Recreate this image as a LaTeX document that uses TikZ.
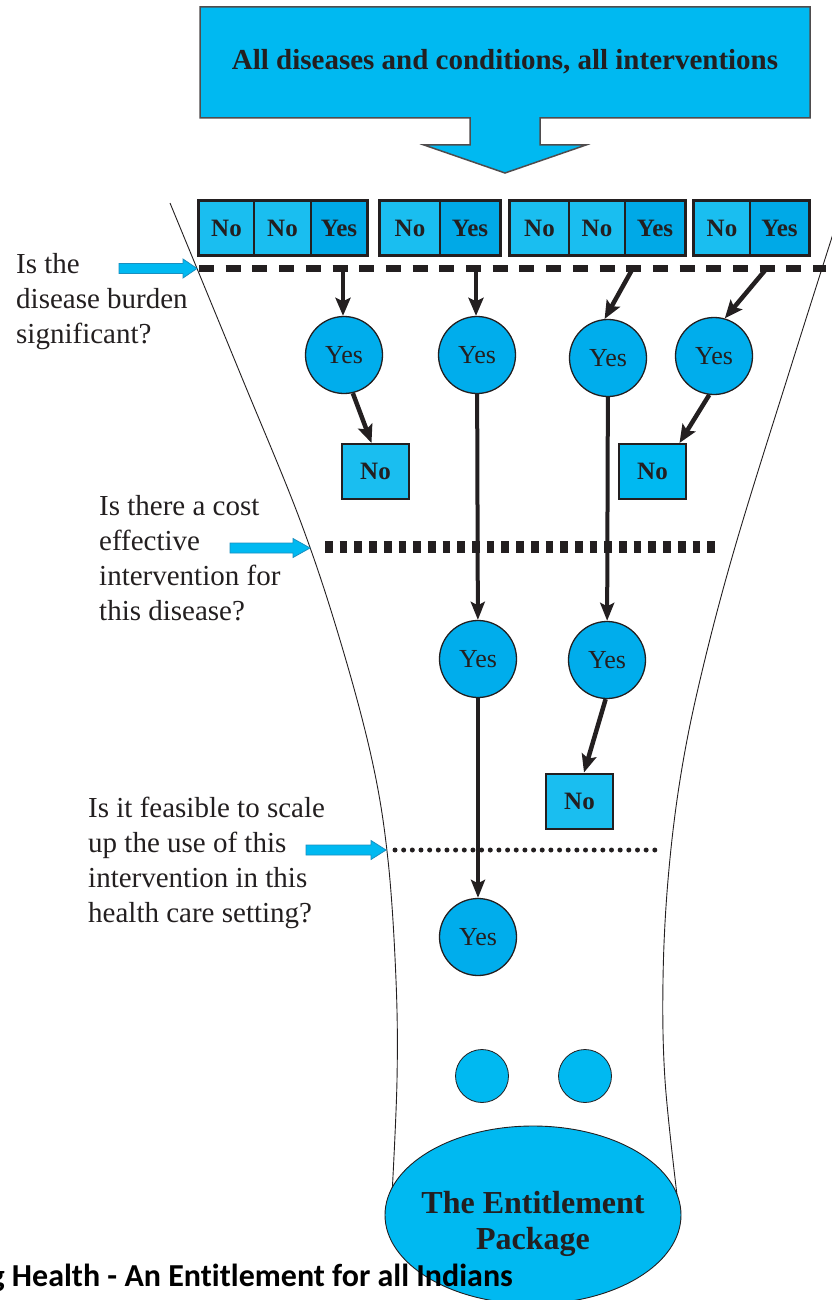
\documentclass[tikz,border=0pt]{standalone}
\usepackage{fontspec}
\setmainfont{Liberation Serif}
\newfontfamily\capfont[Ligatures=NoCommon]{Carlito}
\usetikzlibrary{arrows.meta,shapes.geometric}
\definecolor{ink}{HTML}{231F20}
\definecolor{cyanmain}{HTML}{00B9F1}
\definecolor{nofill}{HTML}{1ABEF0}
\definecolor{yesfill}{HTML}{00A9E7}
\definecolor{circfill}{HTML}{00ADEC}
\definecolor{arrowedge}{HTML}{1A8FBF}
\begin{document}
\begin{tikzpicture}[x=1pt,y=-1pt,
  cell/.style={draw=ink, line width=1.6pt, minimum height=54pt, inner sep=0pt, text=ink,
    font=\fontsize{25}{30}\selectfont\bfseries},
  nocell/.style={cell, fill=nofill},
  yescell/.style={cell, fill=yesfill},
  groupframe/.style={draw=ink, line width=2.4pt},
  yescirc/.style={circle, draw=ink, line width=1.3pt, fill=circfill, minimum size=77pt,
    inner sep=0pt, text=ink, font=\fontsize{26}{30}\selectfont},
  nobox/.style={draw=ink, line width=2pt, fill=nofill, minimum width=67pt, minimum height=55pt,
    inner sep=0pt, text=ink, font=\fontsize{25}{30}\selectfont\bfseries},
  flow/.style={draw=ink, line width=4.5pt, -{Stealth[length=18pt,width=15pt,inset=3.5pt]}},
  flowlong/.style={draw=ink, line width=4pt, -{Stealth[length=18pt,width=14pt,inset=3.5pt]}},
  funnel/.style={draw=ink, line width=0.9pt},
  qtext/.style={anchor=base west, inner sep=0pt, text=ink},
  qarrow/.style={fill=cyanmain, draw=arrowedge, line width=0.8pt},
  bigshape/.style={fill=cyanmain, draw=ink!80, line width=1.5pt},
  dot/.style={circle, draw=ink, line width=0.8pt, fill=cyanmain, minimum size=53pt, inner sep=0pt}
]
\useasboundingbox (0,0) rectangle (831,1300);

% funnel outline
\draw[funnel] plot[smooth, tension=0.6] coordinates {(170,203) (240,373) (300,520) (340,640) (372,760) (388,860) (396,980) (397,1080) (392,1195)};
\draw[funnel] plot[smooth, tension=0.6] coordinates {(840,212) (793,360) (735,547) (700,680) (680,780) (668,880) (663,980) (665,1080) (677,1195)};

% top block arrow
\draw[bigshape] (200,7) -- (810,7) -- (810,118) -- (540,118) -- (540,145) -- (586,145) -- (505,173)
  -- (424,145) -- (470,145) -- (470,118) -- (200,118) -- cycle;
\node[anchor=base, inner sep=0pt, text=ink, font=\fontsize{29}{35}\selectfont\bfseries] (title) at (505,70)
  {All diseases and conditions, all interventions};

% row of cells
\node[nocell, minimum width=55pt] (c11) at (226.5,228) {No};
\node[nocell, minimum width=57pt] (c12) at (282.5,228) {No};
\node[yescell, minimum width=56pt] (c13) at (339,228) {Yes};
\node[nocell, minimum width=60pt] (c21) at (410,228) {No};
\node[yescell, minimum width=60pt] (c22) at (470,228) {Yes};
\node[nocell, minimum width=59pt] (c31) at (539.5,228) {No};
\node[nocell, minimum width=56pt] (c32) at (597,228) {No};
\node[yescell, minimum width=60pt] (c33) at (655,228) {Yes};
\node[nocell, minimum width=56pt] (c41) at (722,228) {No};
\node[yescell, minimum width=59pt] (c42) at (779.5,228) {Yes};
\draw[groupframe] (c11.north west) rectangle (c13.south east);
\draw[groupframe] (c21.north west) rectangle (c22.south east);
\draw[groupframe] (c31.north west) rectangle (c33.south east);
\draw[groupframe] (c41.north west) rectangle (c42.south east);

% decision lines
\draw[ink, line width=7.3pt, dash pattern=on 15pt off 11.7pt] (199,268.5) -- (826,268.5);
\draw[ink, line width=12.5pt, dash pattern=on 7.7pt off 7pt] (325,547) -- (717,547);
\draw[ink, line width=5pt, line cap=round, dash pattern=on 0pt off 8.66pt] (395,850) -- (662,850);

\coordinate (d1) at (343,268);
\coordinate (d2) at (476,268);
\coordinate (d3) at (633,268);
\coordinate (d4) at (767,268);

% question labels
\node[qtext, font=\fontsize{29}{35}\selectfont] (q1) at (16,273)
  {\begin{tabular}[t]{@{}l@{}}Is the\\disease burden\\significant?\end{tabular}};
\node[qtext, font=\fontsize{29}{35}\selectfont] (q2) at (99,515)
  {\begin{tabular}[t]{@{}l@{}}Is there a cost\\effective\\intervention for\\this disease?\end{tabular}};
\node[qtext, font=\fontsize{29}{35}\selectfont] (q3) at (88,817)
  {\begin{tabular}[t]{@{}l@{}}Is it feasible to scale\\up the use of this\\intervention in this\\health care setting?\end{tabular}};

% cyan pointer arrows
\draw[qarrow] (119,263.5) -- (183,263.5) -- (183,259) -- (197,268.5) -- (183,278) -- (183,273.5) -- (119,273.5) -- cycle;
\draw[qarrow] (230,543) -- (293,543) -- (293,538.5) -- (310,548) -- (293,557.5) -- (293,553) -- (230,553) -- cycle;
\draw[qarrow] (306,845) -- (371,845) -- (371,840.5) -- (386,850) -- (371,859.5) -- (371,855) -- (306,855) -- cycle;

% yes circles and no boxes
\node[yescirc] (y1) at (344,355) {Yes};
\node[yescirc] (y2) at (477,355) {Yes};
\node[yescirc] (y3) at (608,358) {Yes};
\node[yescirc] (y4) at (714,356) {Yes};
\node[nobox] (n1) at (375.5,471.5) {No};
\node[nobox, fill=cyanmain] (n2) at (652.5,471.5) {No};
\node[yescirc] (y5) at (478,659) {Yes};
\node[yescirc] (y6) at (607,660) {Yes};
\node[nobox] (n3) at (579.5,801) {No};
\node[yescirc] (y7) at (478,937) {Yes};

% connectors
\draw[flow] (d1) -- (d1 |- y1.north);
\draw[flow] (d2) -- (d2 |- y2.north);
\draw[flow] (d3) -- (y3.95);
\draw[flow] (d4) -- (y4.74);
\draw[flow] (y1.-77) -- ([xshift=-4pt]n1.north);
\draw[flow] (y4.-97) -- ([xshift=27pt]n2.north);
\draw[flowlong] (y2) -- (y5);
\draw[flowlong] (y3) -- (y6);
\draw[flow] (y6.-92) -- ([xshift=4.5pt]n3.north);
\draw[flowlong] (y5) -- (y7);

% bottom
\node[dot] (s1) at (482,1076) {};
\node[dot] (s2) at (585,1076) {};
\node[ellipse, draw=ink, line width=0.9pt, fill=cyanmain, minimum width=296pt, minimum height=178pt, inner sep=0pt] (pkg) at (533,1215) {};
\node[anchor=base, inner sep=0pt, text=ink, font=\fontsize{32}{36}\selectfont\bfseries] (pkgtext) at (533,1213)
  {\begin{tabular}[t]{@{}c@{}}The Entitlement\\Package\end{tabular}};
\node[anchor=base east, inner sep=0pt, text=black, font=\capfont\bfseries\fontsize{32}{36}\selectfont] (cap) at (513,1286)
  {g Health - An Entitlement for all Indians};
\end{tikzpicture}
\end{document}
